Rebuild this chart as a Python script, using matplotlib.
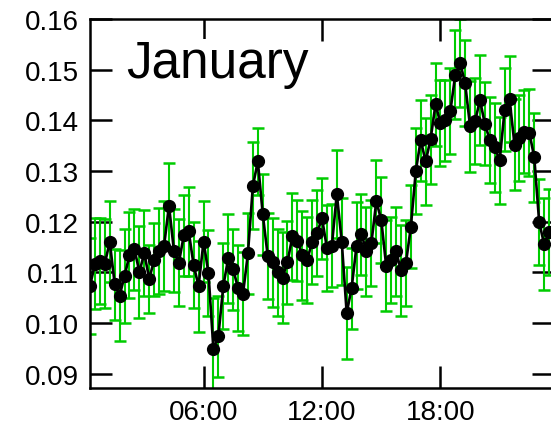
import matplotlib
matplotlib.use("Agg")
import matplotlib.pyplot as plt
from matplotlib.ticker import FormatStrFormatter

plt.rcParams["font.family"] = ["Liberation Sans", "DejaVu Sans"]

# 15-minute means (hour of day)
hours = [0.25 * i for i in range(1, 95)]
values = [
    0.1073, 0.1117, 0.1123, 0.1117, 0.1161, 0.1077, 0.1054, 0.1093, 0.1134, 0.1146,
    0.1101, 0.1138, 0.1087, 0.1125, 0.1143, 0.1152, 0.1232, 0.1143, 0.1119, 0.1173,
    0.1181, 0.1114, 0.1073, 0.1161, 0.1099, 0.0949, 0.0974, 0.1073, 0.1128, 0.1106,
    0.1069, 0.1058, 0.1138, 0.1271, 0.1319, 0.1215, 0.1133, 0.1120, 0.1100, 0.1090,
    0.1120, 0.1171, 0.1163, 0.1134, 0.1125, 0.1160, 0.1178, 0.1207, 0.1148, 0.1153,
    0.1255, 0.1161, 0.1020, 0.1069, 0.1153, 0.1175, 0.1142, 0.1158, 0.1240, 0.1204,
    0.1113, 0.1125, 0.1142, 0.1104, 0.1118, 0.1190, 0.1300, 0.1361, 0.1319, 0.1363,
    0.1432, 0.1394, 0.1400, 0.1418, 0.1490, 0.1513, 0.1473, 0.1388, 0.1398, 0.1440,
    0.1393, 0.1361, 0.1347, 0.1321, 0.1421, 0.1442, 0.1352, 0.1365, 0.1378, 0.1376,
    0.1327, 0.1199, 0.1156, 0.1179,
]
errors = [
    0.0095, 0.0090, 0.0085, 0.0088, 0.0080, 0.0070, 0.0090, 0.0093, 0.0085, 0.0080,
    0.0090, 0.0085, 0.0068, 0.0072, 0.0085, 0.0088, 0.0084, 0.0082, 0.0086, 0.0080,
    0.0088, 0.0085, 0.0090, 0.0080, 0.0085, 0.0100, 0.0080, 0.0085, 0.0088, 0.0080,
    0.0085, 0.0082, 0.0080, 0.0086, 0.0066, 0.0080, 0.0085, 0.0088, 0.0085, 0.0090,
    0.0082, 0.0085, 0.0080, 0.0088, 0.0085, 0.0082, 0.0085, 0.0080, 0.0085, 0.0082,
    0.0087, 0.0085, 0.0090, 0.0080, 0.0085, 0.0080, 0.0088, 0.0085, 0.0082, 0.0085,
    0.0090, 0.0085, 0.0088, 0.0090, 0.0085, 0.0082, 0.0085, 0.0080, 0.0085, 0.0088,
    0.0082, 0.0085, 0.0080, 0.0085, 0.0088, 0.0087, 0.0085, 0.0090, 0.0085, 0.0088,
    0.0082, 0.0085, 0.0088, 0.0085, 0.0082, 0.0085, 0.0090, 0.0085, 0.0082, 0.0085,
    0.0088, 0.0085, 0.0090, 0.0085,
]
tick_hours = [6, 12, 18]
tick_labels = ["06:00", "12:00", "18:00"]
y_ticks = [0.09, 0.10, 0.11, 0.12, 0.13, 0.14, 0.15, 0.16]


def main():
    fig = plt.figure(figsize=(5.51, 4.31), dpi=100)
    ax = fig.add_axes([90 / 551, 1 - 389 / 431, 464 / 551, 369 / 431])

    ax.errorbar(hours, values, yerr=errors, fmt="none", ecolor="#00cc00",
                elinewidth=1.5, capsize=4.5, capthick=1.8, zorder=2)
    ax.plot(hours, values, color="black", lw=1.9, marker="o", ms=8.5, zorder=3)

    ax.set_xlim(0.25, 23.75)
    ax.set_ylim(0.0872, 0.16)
    ax.set_xticks(tick_hours)
    ax.set_xticklabels(tick_labels)
    ax.set_yticks(y_ticks)
    ax.yaxis.set_major_formatter(FormatStrFormatter("%.2f"))
    ax.tick_params(axis="both", direction="in", length=16, width=1.8,
                   labelsize=20, top=True, right=True, pad=8)
    for sp in ax.spines.values():
        sp.set_linewidth(1.8)

    ax.text(126 / 551, 1 - 78 / 431, "January", transform=fig.transFigure,
            fontsize=37, va="baseline", ha="left", zorder=5,
            bbox=dict(facecolor="white", edgecolor="none", pad=0))

    fig.savefig("out.png", dpi=100)


if __name__ == "__main__":
    main()
